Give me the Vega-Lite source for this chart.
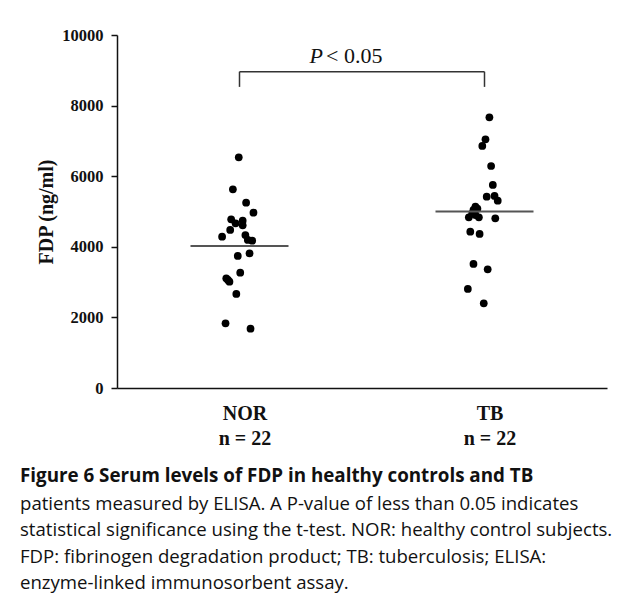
{
  "$schema": "https://vega.github.io/schema/vega-lite/v6.json",
  "width": 490,
  "height": 353,
  "autosize": "none",
  "padding": {"left": 117, "top": 35, "right": 18, "bottom": 206},
  "background": "white",
  "config": {"view": {"stroke": null}},
  "title": {
    "text": "Figure 6 Serum levels of FDP in healthy controls and TB",
    "subtitle": ["patients measured by ELISA. A P-value of less than 0.05 indicates", "statistical significance using the t-test. NOR: healthy control subjects.", "FDP: fibrinogen degradation product; TB: tuberculosis; ELISA:", "enzyme-linked immunosorbent assay."],
    "orient": "bottom",
    "anchor": "start",
    "frame": "group",
    "dx": -97,
    "offset": 19,
    "font": "Open Sans",
    "fontSize": 18.8,
    "fontWeight": "bold",
    "lineHeight": 26.5,
    "color": "#111111",
    "subtitleFont": "Open Sans",
    "subtitleFontSize": 18.6,
    "subtitleFontWeight": "normal",
    "subtitleLineHeight": 26.5,
    "subtitlePadding": 8.9,
    "subtitleColor": "#111111"
  },
  "datasets": {
    "points": [
      {"group": "NOR", "x": 0.997, "value": 6536},
      {"group": "NOR", "x": 0.973, "value": 5629},
      {"group": "NOR", "x": 1.027, "value": 5250},
      {"group": "NOR", "x": 1.057, "value": 4966},
      {"group": "NOR", "x": 0.966, "value": 4779},
      {"group": "NOR", "x": 1.013, "value": 4740},
      {"group": "NOR", "x": 0.984, "value": 4666},
      {"group": "NOR", "x": 1.013, "value": 4609},
      {"group": "NOR", "x": 0.962, "value": 4476},
      {"group": "NOR", "x": 1.024, "value": 4334},
      {"group": "NOR", "x": 0.929, "value": 4286},
      {"group": "NOR", "x": 1.034, "value": 4193},
      {"group": "NOR", "x": 1.052, "value": 4173},
      {"group": "NOR", "x": 1.041, "value": 3816},
      {"group": "NOR", "x": 0.993, "value": 3740},
      {"group": "NOR", "x": 1.003, "value": 3266},
      {"group": "NOR", "x": 0.946, "value": 3108},
      {"group": "NOR", "x": 0.959, "value": 3011},
      {"group": "NOR", "x": 0.953, "value": 3060},
      {"group": "NOR", "x": 0.987, "value": 2663},
      {"group": "NOR", "x": 0.943, "value": 1833},
      {"group": "NOR", "x": 1.045, "value": 1681},
      {"group": "TB", "x": 2.020, "value": 7669},
      {"group": "TB", "x": 2.004, "value": 7046},
      {"group": "TB", "x": 1.991, "value": 6856},
      {"group": "TB", "x": 2.027, "value": 6289},
      {"group": "TB", "x": 2.034, "value": 5751},
      {"group": "TB", "x": 2.009, "value": 5420},
      {"group": "TB", "x": 2.041, "value": 5440},
      {"group": "TB", "x": 2.054, "value": 5306},
      {"group": "TB", "x": 1.963, "value": 5136},
      {"group": "TB", "x": 1.955, "value": 5043},
      {"group": "TB", "x": 1.950, "value": 4949},
      {"group": "TB", "x": 1.977, "value": 4836},
      {"group": "TB", "x": 1.936, "value": 4836},
      {"group": "TB", "x": 2.044, "value": 4808},
      {"group": "TB", "x": 1.942, "value": 4428},
      {"group": "TB", "x": 1.980, "value": 4363},
      {"group": "TB", "x": 1.955, "value": 3513},
      {"group": "TB", "x": 2.013, "value": 3363},
      {"group": "TB", "x": 1.932, "value": 2805},
      {"group": "TB", "x": 1.997, "value": 2400},
      {"group": "TB", "x": 1.971, "value": 5080},
      {"group": "TB", "x": 1.963, "value": 4900}
    ],
    "medians": [
      {"group": "NOR", "x1": 0.8, "x2": 1.2, "value": 4020},
      {"group": "TB", "x1": 1.8, "x2": 2.2, "value": 5000}
    ],
    "bracketH": [{"x1": 1, "x2": 2, "y": 8960}],
    "bracketV": [
      {"x": 1, "y1": 8530, "y2": 8960},
      {"x": 2, "y1": 8530, "y2": 8960}
    ],
    "pval": [{"x": 1.349, "y": 9200, "p": "P", "rest": "< 0.05"}]
  },
  "layer": [
    {
      "data": {"name": "points"},
      "mark": {"type": "circle", "size": 60, "color": "#000000", "opacity": 1},
      "encoding": {
        "x": {
          "field": "x", "type": "quantitative",
          "scale": {"domain": [0.5, 2.5], "nice": false, "zero": false},
          "axis": {
            "title": null, "values": [1, 2], "ticks": false, "grid": false,
            "domainColor": "#111111", "domainWidth": 1.5,
            "labelExpr": "datum.value == 1 ? ['NOR', 'n = 22'] : ['TB', 'n = 22']",
            "labelFont": "Liberation Serif", "labelFontWeight": "bold", "labelFontSize": 20,
            "labelColor": "#111111", "labelLineHeight": 25, "labelPadding": 15, "labelOffset": 5
          }
        },
        "y": {
          "field": "value", "type": "quantitative",
          "scale": {"domain": [0, 10000], "nice": false},
          "axis": {
            "title": "FDP (ng/ml)", "values": [0, 2000, 4000, 6000, 8000, 10000], "format": "d",
            "grid": false, "domainColor": "#111111", "domainWidth": 1.5,
            "tickColor": "#111111", "tickWidth": 1.5, "tickSize": 6,
            "labelFont": "Liberation Serif", "labelFontWeight": "bold", "labelFontSize": 16.5,
            "labelColor": "#111111", "labelPadding": 8,
            "titleFont": "Liberation Serif", "titleFontWeight": "bold", "titleFontSize": 20,
            "titleColor": "#111111", "titlePadding": 5
          }
        }
      }
    },
    {
      "data": {"name": "medians"},
      "mark": {"type": "rule", "color": "#555555", "strokeWidth": 2},
      "encoding": {
        "x": {"field": "x1", "type": "quantitative"},
        "x2": {"field": "x2"},
        "y": {"field": "value", "type": "quantitative"}
      }
    },
    {
      "data": {"name": "bracketH"},
      "mark": {"type": "rule", "color": "#333333", "strokeWidth": 1.5},
      "encoding": {
        "x": {"field": "x1", "type": "quantitative"},
        "x2": {"field": "x2"},
        "y": {"field": "y", "type": "quantitative"}
      }
    },
    {
      "data": {"name": "bracketV"},
      "mark": {"type": "rule", "color": "#333333", "strokeWidth": 1.5},
      "encoding": {
        "x": {"field": "x", "type": "quantitative"},
        "y": {"field": "y1", "type": "quantitative"},
        "y2": {"field": "y2"}
      }
    },
    {
      "data": {"name": "pval"},
      "mark": {"type": "text", "font": "Liberation Serif", "fontSize": 22, "fontStyle": "italic", "align": "right", "baseline": "alphabetic", "dx": -2, "color": "#111111"},
      "encoding": {
        "x": {"field": "x", "type": "quantitative"},
        "y": {"field": "y", "type": "quantitative"},
        "text": {"field": "p"}
      }
    },
    {
      "data": {"name": "pval"},
      "mark": {"type": "text", "font": "Liberation Serif", "fontSize": 22, "align": "left", "baseline": "alphabetic", "dx": 1, "color": "#111111"},
      "encoding": {
        "x": {"field": "x", "type": "quantitative"},
        "y": {"field": "y", "type": "quantitative"},
        "text": {"field": "rest"}
      }
    }
  ]
}
